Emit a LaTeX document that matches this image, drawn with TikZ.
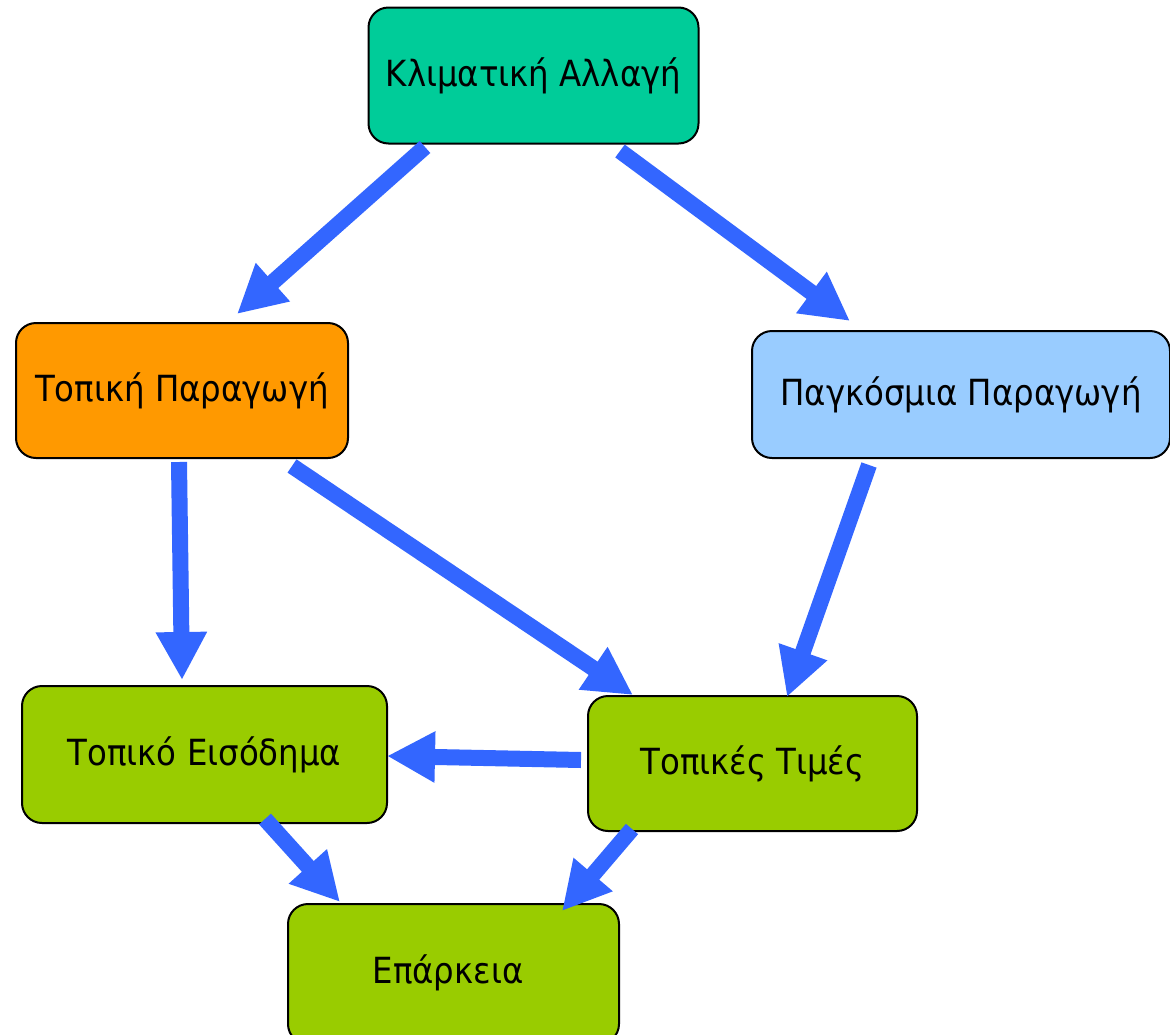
\documentclass[tikz,border=0pt]{standalone}
\usepackage{fontspec}
\setmainfont{DejaVu Sans}[FakeStretch=0.9]
\usetikzlibrary{arrows.meta,calc}
\definecolor{cgreen}{HTML}{00CC99}
\definecolor{corange}{HTML}{FF9900}
\definecolor{cblue}{HTML}{99CCFF}
\definecolor{clime}{HTML}{99CC00}
\definecolor{carrow}{HTML}{3366FF}
\tikzset{
  box/.style={draw=black, line width=2pt, rounded corners=20pt, rectangle, inner sep=0pt,
    font=\fontsize{36}{42}\selectfont, text=black},
  bigarrow/.style={draw=carrow, line width=16pt, line join=miter,
    -{Triangle[length=48pt,width=48pt]}}
}
\begin{document}
\begin{tikzpicture}[x=1pt,y=-1pt]
\clip (0,0) rectangle (1170,1034);
\fill[white] (0,0) rectangle (1170,1034);
\node[box, fill=cgreen, minimum width=330pt, minimum height=136pt] (kl) at (533.5,75.5) {Κλιματική Αλλαγή};
\node[box, fill=corange, minimum width=332pt, minimum height=135pt] (tp) at (182,390.5) {Τοπική Παραγωγή};
\node[box, fill=cblue, minimum width=418pt, minimum height=127pt] (pg) at (961,394.5) {Παγκόσμια Παραγωγή};
\node[box, fill=clime, minimum width=365pt, minimum height=137pt] (te) at (204.5,754.5) {Τοπικό Εισόδημα};
\node[box, fill=clime, minimum width=329pt, minimum height=135pt] (tt) at (752.5,763.5) {Τοπικές Τιμές};
\node[box, fill=clime, minimum width=331pt, minimum height=140pt] (ep) at (453.5,974) {};
\node[font=\fontsize{36}{42}\selectfont] (eptext) at (448,973) {Επάρκεια};
\draw[bigarrow] ($(kl.south)+(-108.5,2.5)$) -- ($(tp.north)+(55,-8)$);
\draw[bigarrow] ($(kl.south)+(86.5,6.5)$) -- ($(pg.north)+(-111,-9)$);
\draw[bigarrow] ($(tp.south)+(-3,3)$) -- ($(te.north)+(-22.5,-5)$);
\draw[bigarrow] ($(tp.south)+(110,7)$) -- ($(tt.north)+(-119.5,0)$);
\draw[bigarrow] ($(pg.south)+(-92,6)$) -- ($(tt.north)+(34.5,2)$);
\draw[bigarrow] ($(tt.west)+(-6,-3.5)$) -- ($(te.east)+(-1,1.5)$);
\draw[bigarrow] ($(te.south)+(60.5,-5)$) -- ($(ep.north)+(-113.5,-1)$);
\draw[bigarrow] ($(tt.south)+(-120.5,-3)$) -- ($(ep.north)+(108.5,8)$);
\end{tikzpicture}
\end{document}
